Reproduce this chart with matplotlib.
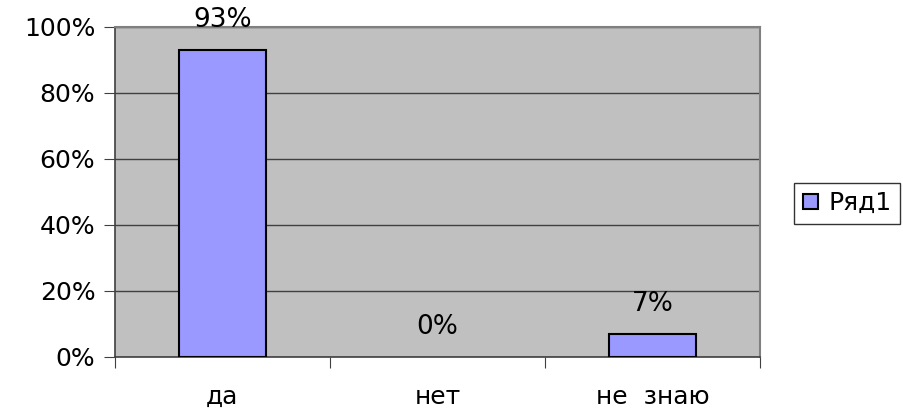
import matplotlib.pyplot as plt
import numpy as np

categories = ["да", "нет", "не  знаю"]
values = [93, 0, 7]
series_name = "Ряд1"

fig = plt.figure(figsize=(9.04, 4.15), dpi=100)
ax = fig.add_axes([0.127, 0.14, 0.714, 0.795])

x = np.arange(len(categories))
widths = [1.5 if v > 0 else 0 for v in values]
bars = ax.bar(x, values, width=0.405, color="#9999ff", edgecolor="black",
              linewidth=widths, label=series_name, zorder=3)

ax.set_facecolor("#c0c0c0")
ax.set_xlim(-0.5, len(categories) - 0.5)
ax.set_ylim(0, 100)
ax.set_yticks(range(0, 101, 20))
ax.set_yticklabels([f"{v}%" for v in range(0, 101, 20)], fontsize=18)
ax.yaxis.grid(True, color="#404040", linewidth=1, zorder=1)

# category labels in the middle, tick marks at the boundaries
ax.set_xticks(np.arange(-0.5, len(categories), 1))
ax.set_xticklabels([])
ax.set_xticks(x, minor=True)
ax.set_xticklabels(categories, minor=True, fontsize=18)
ax.tick_params(axis="x", which="minor", length=0, pad=20)
ax.tick_params(axis="x", which="major", length=8, color="#404040")
ax.tick_params(axis="y", length=8, color="#404040", pad=6)

for side in ["top", "right"]:
    ax.spines[side].set_color("#808080")
    ax.spines[side].set_linewidth(1.5)
for side in ["left", "bottom"]:
    ax.spines[side].set_color("#404040")
    ax.spines[side].set_linewidth(1.2)

for b, v in zip(bars, values):
    ax.annotate(f"{v}%", (b.get_x() + b.get_width() / 2, v),
                xytext=(0, 12), textcoords="offset points",
                ha="center", va="bottom", fontsize=19, annotation_clip=False)

leg = fig.legend(loc="center left", bbox_to_anchor=(0.865, 0.51), fontsize=18,
                 frameon=True, fancybox=False, edgecolor="black",
                 handlelength=0.6, handleheight=0.6, handletextpad=0.4,
                 borderpad=0.35)
leg.get_frame().set_linewidth(1)

fig.savefig("out.png", dpi=100)
